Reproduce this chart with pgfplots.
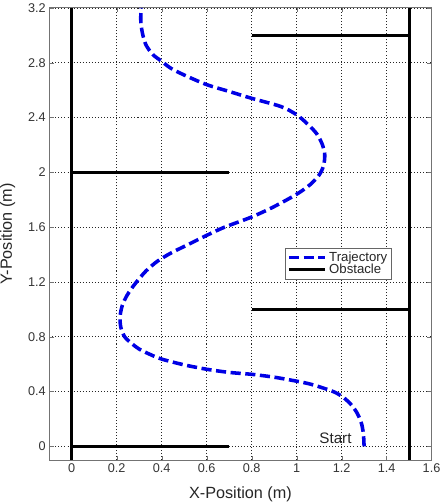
\documentclass[border=0pt]{standalone}
\usepackage{pgfplots}
\pgfplotsset{compat=1.18}
\usepackage{fontspec}
\setmainfont{Liberation Sans}
\begin{document}
\begin{tikzpicture}[x=1pt,y=1pt]
\begin{axis}[
  scale only axis,
  width=377pt, height=446pt,
  xmin=-0.1, xmax=1.6, ymin=-0.1, ymax=3.2,
  xtick={0,0.2,...,1.6}, ytick={0,0.4,...,3.2},
  yticklabels={0,0.4,0.8,1.2,1.6,2,2.4,2.8,3.2},
  xticklabels={0,0.2,0.4,0.6,0.8,1,1.2,1.4,1.6},
  tick align=inside, tick style={black!55},
  axis line style={black!55, line width=0.8pt},
  grid=major, grid style={black!85, dash pattern=on 1pt off 2pt, line width=0.7pt},
  ticklabel style={font=\fontsize{12.5}{14}\selectfont, text=black!80},
  xlabel={X-Position (m)}, ylabel={Y-Position (m)},
  label style={font=\fontsize{16}{18}\selectfont, text=black!85, inner sep=0pt},
  xlabel style={at={([yshift=-38pt]rel axis cs:0.5,0)}, anchor=base},
  ylabel style={at={([xshift=-37pt]rel axis cs:0,0.5)}, anchor=base},
  unbounded coords=jump,
  legend style={at={(axis cs:1.42,1.445)}, anchor=north east,
    font=\fontsize{13}{14}\selectfont, draw=black!60, text=black!85,
    row sep=-3pt, inner sep=1.5pt},
  legend cell align=left,
  legend image code/.code={\draw[#1] (0pt,0pt) -- (36pt,0pt);},
]
\addplot[blue!90!black, line width=3.5pt, dash pattern=on 10pt off 4.5pt, smooth] coordinates {
(1.300,0.00) (1.297,0.09) (1.288,0.17) (1.270,0.24) (1.245,0.30) (1.210,0.355)
(1.170,0.395) (1.120,0.425) (1.060,0.455) (1.000,0.476) (0.900,0.505) (0.800,0.526)
(0.700,0.540) (0.600,0.563) (0.500,0.595) (0.400,0.637) (0.350,0.670) (0.300,0.710)
(0.260,0.760) (0.235,0.800) (0.218,0.870) (0.215,0.950) (0.225,1.030) (0.245,1.100)
(0.265,1.150) (0.288,1.200) (0.330,1.280) (0.380,1.350) (0.440,1.410) (0.520,1.475)
(0.600,1.540) (0.680,1.600) (0.800,1.674) (0.900,1.750) (1.000,1.840) (1.060,1.910)
(1.100,1.980) (1.120,2.050) (1.125,2.130) (1.115,2.200) (1.090,2.280) (1.050,2.350)
(1.000,2.420) (0.930,2.480) (0.800,2.540) (0.700,2.590) (0.600,2.640) (0.500,2.710)
(0.440,2.760) (0.400,2.810) (0.360,2.860) (0.330,2.930) (0.315,3.010) (0.307,3.100)
(0.308,3.200)
};
\addlegendentry{Trajectory}
\addplot[black, line width=2.9pt] coordinates {
(0,-0.1) (0,3.2) (nan,nan)
(1.5,-0.1) (1.5,3.2) (nan,nan)
(0,0) (0.7,0) (nan,nan)
(0,2) (0.7,2) (nan,nan)
(0.8,1) (1.5,1) (nan,nan)
(0.8,3) (1.5,3)
};
\addlegendentry{Obstacle}
\node[anchor=base east, font=\fontsize{15}{17}\selectfont, text=black!85, inner sep=0pt] at (axis cs:1.245,0.02) {Start};
\path (rel axis cs:0,0) ++(-55pt,-43pt) (rel axis cs:1,1) ++(6pt,13pt);
\end{axis}
\end{tikzpicture}
\end{document}
